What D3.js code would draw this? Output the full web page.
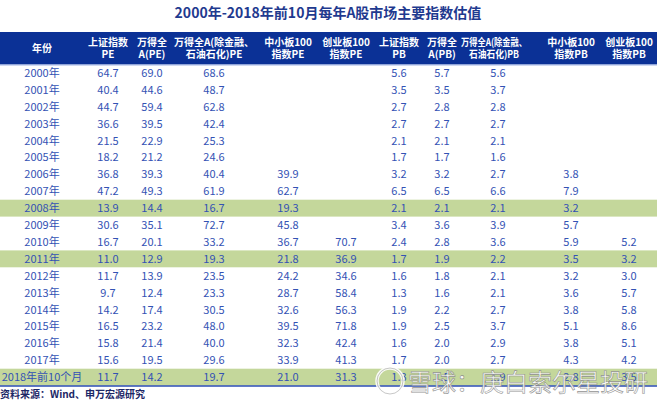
<!DOCTYPE html>
<html>
<head>
<meta charset="utf-8">
<script src="https://cdn.jsdelivr.net/npm/d3@7"></script>
<style>
  body { margin: 0; background: #fff; }
  svg { display: block; font-family: "Noto Sans CJK SC", "Noto Sans", sans-serif; }
</style>
</head>
<body>
<div id="table"></div>
<script>
var title = '2000年-2018年前10月每年A股市场主要指数估值'
var source = '资料来源：Wind、申万宏源研究'

var years = ['2000年','2001年','2002年','2003年','2004年','2005年','2006年','2007年','2008年','2009年',
    '2010年','2011年','2012年','2013年','2014年','2015年','2016年','2017年','2018年前10个月']

// rows with green background
var highlight = ['2008年', '2011年', '2018年前10个月']

var headers = [
    ['年份'],
    ['上证指数', 'PE'],
    ['万得全', 'A(PE)'],
    ['万得全A(除金融、', '石油石化)PE'],
    ['中小板100', '指数PE'],
    ['创业板100', '指数PE'],
    ['上证指数', 'PB'],
    ['万得全', 'A(PB)'],
    ['万得全A(除金融、', '石油石化)PB'],
    ['中小板100', '指数PB'],
    ['创业板100', '指数PB']
]

var shPE  = [64.7,40.4,44.7,36.6,21.5,18.2,36.8,47.2,13.9,30.6,16.7,11.0,11.7,9.7,14.2,16.5,15.8,15.6,11.7]
var wdPE  = [69.0,44.6,59.4,39.5,22.9,21.2,39.3,49.3,14.4,35.1,20.1,12.9,13.9,12.4,17.4,23.2,21.4,19.5,14.2]
var wdxPE = [68.6,48.7,62.8,42.4,25.3,24.6,40.4,61.9,16.7,72.7,33.2,19.3,23.5,23.3,30.5,48.0,40.0,29.6,19.7]
var zxPE  = [null,null,null,null,null,null,39.9,62.7,19.3,45.8,36.7,21.8,24.2,28.7,32.6,39.5,32.3,33.9,21.0]
var cyPE  = [null,null,null,null,null,null,null,null,null,null,70.7,36.9,34.6,58.4,56.3,71.8,42.4,41.3,31.3]
var shPB  = [5.6,3.5,2.7,2.7,2.1,1.7,3.2,6.5,2.1,3.4,2.4,1.7,1.6,1.3,1.9,1.9,1.6,1.7,1.3]
var wdPB  = [5.7,3.5,2.8,2.7,2.1,1.7,3.2,6.5,2.1,3.6,2.8,1.9,1.8,1.6,2.2,2.5,2.0,2.0,1.5]
var wdxPB = [5.6,3.7,2.8,2.7,2.1,1.6,2.7,6.6,2.1,3.9,3.6,2.2,2.1,2.1,2.7,3.7,2.9,2.7,1.9]
var zxPB  = [null,null,null,null,null,null,3.8,7.9,3.2,5.7,5.9,3.5,3.2,3.6,3.8,5.1,3.8,4.3,2.8]
var cyPB  = [null,null,null,null,null,null,null,null,null,null,5.2,3.2,3.0,5.7,5.8,8.6,5.1,4.2,3.5]

var series = [shPE, wdPE, wdxPE, zxPE, cyPE, shPB, wdPB, wdxPB, zxPB, cyPB]

var width = 660, height = 400
var colWidths = [84, 48, 40, 84, 64, 52, 54, 32, 80, 66, 50]
var tableRight = 657
var headTop = 32, headBottom = 64.5, rowH = 16.9

var blue = '#0b3196', textBlue = '#3352b4', green = '#c4d79b'

var svg = d3.select('#table')
    .append('svg')
        .attr('width', width)
        .attr('height', height)

// column centers from cumulative widths
var edges = d3.cumsum([0].concat(colWidths))
var x = d3.scaleOrdinal()
    .domain(d3.range(colWidths.length))
    .range(d3.range(colWidths.length).map(function(i){ return (edges[i] + edges[i+1]) / 2 }))

var y = d3.scaleBand()
    .domain(years)
    .range([headBottom, headBottom + rowH * years.length])

// title
svg.append('text')
    .attr('x', 328)
    .attr('y', 18)
    .attr('text-anchor', 'middle')
    .style('font-size', '14px')
    .style('font-weight', 'bold')
    .style('fill', '#1f3a8f')
    .text(title)

// header band
svg.append('rect')
    .attr('x', 0)
    .attr('y', headTop)
    .attr('width', tableRight)
    .attr('height', headBottom - headTop)
    .style('fill', blue)

svg.append('line')
    .attr('x1', 0).attr('x2', tableRight)
    .attr('y1', headBottom + 0.5).attr('y2', headBottom + 0.5)
    .attr('stroke', '#9fb2e6')

var head = svg.selectAll('headText')
    .data(headers)
    .enter()
    .append('text')
        .attr('text-anchor', 'middle')
        .style('font-size', '10px')
        .style('font-weight', 'bold')
        .style('fill', '#fff')

head.selectAll('tspan')
    .data(function(d, i){ return d.map(function(t, j){ return {t: t, j: j, n: d.length, col: i} }) })
    .enter()
    .append('tspan')
        .attr('x', function(d){ return x(d.col) - (d.col == 8 ? 4 : 0) })
        .attr('y', function(d){
            var mid = (headTop + headBottom) / 2
            return mid + 3.5 + (d.j - (d.n - 1) / 2) * 12.5
        })
        .text(function(d){ return d.t })

// the PB one is squeezed a bit tighter in the original
head.filter(function(d, i){ return i == 8 })
    .selectAll('tspan')
    .attr('textLength', function(d){ return d.j == 0 ? 66 : 50 })
    .attr('lengthAdjust', 'spacingAndGlyphs')

// green rows
svg.selectAll('greenRows')
    .data(highlight)
    .enter()
    .append('rect')
        .attr('x', 0)
        .attr('y', function(d){ return y(d) })
        .attr('width', tableRight)
        .attr('height', y.bandwidth())
        .style('fill', green)

// year column
svg.selectAll('yearText')
    .data(years)
    .enter()
    .append('text')
        .attr('x', x(0))
        .attr('y', function(d){ return y(d) + y.bandwidth() / 2 + 4 })
        .attr('text-anchor', 'middle')
        .style('font-size', '11px')
        .style('fill', textBlue)
        .text(function(d){ return d })

// value cells
var cells = []
series.forEach(function(s, c){
    s.forEach(function(v, r){
        if (v != null) cells.push({col: c + 1, year: years[r], v: v})
    })
})

svg.selectAll('cellText')
    .data(cells)
    .enter()
    .append('text')
        .attr('x', function(d){ return x(d.col) })
        .attr('y', function(d){ return y(d.year) + y.bandwidth() / 2 + 4 })
        .attr('text-anchor', 'middle')
        .style('font-size', '11px')
        .style('fill', textBlue)
        .text(function(d){ return d.v.toFixed(1) })

// bottom rule
var bottom = y.range()[1]
svg.append('line')
    .attr('x1', 0).attr('x2', tableRight)
    .attr('y1', bottom + 0.5).attr('y2', bottom + 0.5)
    .attr('stroke', '#2b4db3')
    .attr('stroke-width', 1.5)

svg.append('text')
    .attr('x', 0)
    .attr('y', bottom + 12)
    .style('font-size', '10px')
    .style('font-weight', 'bold')
    .style('fill', '#1c2766')
    .text(source)

// watermark
var wm = svg.append('g').style('opacity', 0.9)
wm.append('circle')
    .attr('cx', 390).attr('cy', 381).attr('r', 13)
    .style('fill', 'none')
    .style('stroke', '#fff')
    .style('stroke-width', 3.5)
wm.append('circle')
    .attr('cx', 390).attr('cy', 381).attr('r', 13)
    .style('fill', 'none')
    .style('stroke', '#999')
    .style('stroke-width', 0.6)
wm.append('text')
    .attr('x', 408)
    .attr('y', 391)
    .style('font-size', '24px')
    .style('fill', '#fff')
    .style('stroke', '#888')
    .style('stroke-width', 0.6)
    .text('雪球：庚白索尔星投研')
</script>
</body>
</html>
